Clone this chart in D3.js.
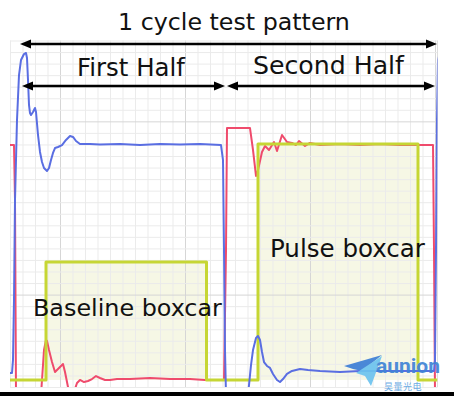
<!DOCTYPE html>
<html><head><meta charset="utf-8">
<script src="https://cdn.jsdelivr.net/npm/d3@7"></script>
<style>html,body{margin:0;padding:0;background:#fff;} svg{display:block}</style>
</head><body><svg id="c" width="454" height="396"></svg>
<script>
// ---- data (time and signal in grid divisions) ----
const blueT = [0,0.16,0.24,0.32,0.4, 0.56,0.72,0.88,1.12,1.28, 1.36,1.44,1.52,1.6,1.68, 1.84,2.0,2.08,2.24,2.4,
  2.56,2.72,2.96,3.12,3.28, 3.44,3.6,3.84,4.16,4.48, 4.8,5.04,5.28,5.6,6.4, 7.2,8.8,10.4,12,13.6,
  15.2,16.88,17.04,17.12,17.2, 17.28,19.04,19.12,19.28,19.44, 19.68,19.84,20,20.16,20.32, 20.56,20.8,21.04,21.36,21.6,
  21.84,22.16,22.56,23.2,23.84, 24.8,26.4,28,29.6,31.2, 32.8,33.92,34,34.08,34.16, 34.24,34.4];
const blueV = [1.21,1.21,2.34,7.53,16.19, 23.12,27.01,28.31,28.83,28.92, 28.48,26.58,24.42,23.72,23.55, 23.81,24.16,23.81,21.82,20.35,
  19.48,18.96,18.70,18.96,19.65, 20.26,20.69,20.78,20.95,21.39, 21.73,21.65,21.30,21.04,21.04, 21.00,21.04,20.95,21.04,21.00,
  21.04,20.95,19.65,11.86,3.20, -0.69,-0.69,0.17,1.90,3.20, 4.24,4.42,4.07,3.03,2.16, 1.82,1.65,1.13,0.61,0.43,
  0.69,1.13,1.39,1.56,1.47, 1.39,1.30,1.39,1.39,1.39, 1.39,1.39,2.34,11.86,23.12, 28.31,28.92];
const redT = [0,0.32,0.4,0.48,2.48, 2.56,2.72,2.88,2.96,3.12, 3.36,3.6,3.84,4.08,4.24, 4.4,4.56,4.72,5.12,5.36,
  5.6,5.92,6.24,6.56,6.88, 7.2,7.6,8.0,8.56,9.6, 11.2,12.8,14.4,15.6,17.12, 17.28,17.36,19.2,19.44,19.68,
  19.84,20.16,20.4,20.72,21.12, 21.36,21.76,22.16,22.56,22.88, 23.12,23.6,24.0,24.8,26.4, 28,29.6,31.2,32.8,33.84,
  33.92,34.0,34.4];
const redV = [20.95,20.95,16.19,-0.69,-0.69, 0.61,3.20,4.07,3.98,3.20, 2.16,1.30,1.56,1.82,1.99, 1.30,0.43,-0.43,-0.43,0.35,
  0.61,0.43,0.52,0.69,0.95, 0.78,0.61,0.61,0.69,0.69, 0.78,0.69,0.69,0.61,0.61, 11.86,22.42,22.42,20.52,18.27,
  18.79,20.35,20.87,20.52,21.21, 20.43,21.82,21.21,21.13,20.95, 21.30,20.87,21.13,20.95,21.04, 20.95,21.04,20.95,20.95,20.95,
  11.86,-0.69,-0.69];
const boxNames = ["Baseline boxcar", "Pulse boxcar"];
const boxStart = [2.88, 19.84];
const boxEnd = [15.72, 32.64];
const boxLevel = [10.82, 21.04];
const boxBaseline = 0.61;
const spanLabels = ["1 cycle test pattern", "First Half", "Second Half"];
const spanStart = [0.8, 0.96, 17.36];
const spanEnd = [34.16, 17.2, 34.0];
const spanLevel = [29.7, 26.06, 26.06];
const xTicks = d3.range(0, 35);
const yTicks = d3.range(0, 31);

// ---- layout ----
const svg = d3.select("#c");
const X0 = 10, X1 = 437.5, Y0 = 387, Y1 = 40.5;
const x = d3.scaleLinear().domain([0, 34.2]).range([X0, X1]);
const y = d3.scaleLinear().domain([0, 30]).range([Y0, Y1]);

svg.append("defs").append("clipPath").attr("id", "plot")
  .append("rect").attr("x", X0).attr("y", Y1).attr("width", X1 - X0).attr("height", Y0 - Y1);

// boxcar fills (under grid, grid shows through)
const fills = svg.append("g").attr("clip-path", "url(#plot)");
fills.selectAll("rect.box").data(boxNames).join("rect").attr("class", "box")
  .attr("x", (d, i) => x(boxStart[i])).attr("width", (d, i) => x(boxEnd[i]) - x(boxStart[i]))
  .attr("y", (d, i) => y(boxLevel[i])).attr("height", (d, i) => y(boxBaseline) - y(boxLevel[i]))
  .attr("fill", "#f6f7e5");

// grid via axes
const gx = svg.append("g").attr("transform", `translate(0,${Y0})`)
  .call(d3.axisBottom(x).tickValues(xTicks).tickSize(-(Y0 - Y1)).tickFormat(""));
const gy = svg.append("g").attr("transform", `translate(${X0},0)`)
  .call(d3.axisLeft(y).tickValues(yTicks).tickSize(-(X1 - X0)).tickFormat(""));
[gx, gy].forEach(g => g.select(".domain").remove());
gx.selectAll(".tick line").attr("stroke", d => d % 10 === 4 ? "#d6d6d6" : "#ebebeb").attr("stroke-width", 1);
gy.selectAll(".tick line").attr("stroke", d => (d - 8) % 15 === 0 ? "#d6d6d6" : "#ebebeb").attr("stroke-width", 1);
svg.append("line").attr("x1", X1).attr("x2", X1).attr("y1", Y1).attr("y2", Y0).attr("stroke", "#dedede");

const plot = svg.append("g").attr("clip-path", "url(#plot)");
const line = d3.line().x(d => x(d[0])).y(d => y(d[1]));

// red trace
plot.append("path").datum(redT.map((t, i) => [t, redV[i]]))
  .attr("d", line).attr("fill", "none").attr("stroke", "#ef4b6c").attr("stroke-width", 2).attr("stroke-linejoin", "round");

// green boxcar gate
const gate = [[0, boxBaseline]];
boxStart.forEach((s, i) => {
  gate.push([s, boxBaseline], [s, boxLevel[i]], [boxEnd[i], boxLevel[i]], [boxEnd[i], boxBaseline]);
});
gate.push([34.2, boxBaseline]);
plot.append("path").datum(gate).attr("d", line).attr("fill", "none")
  .attr("stroke", "#c6d634").attr("stroke-width", 3).attr("stroke-linejoin", "round");

// blue trace
plot.append("path").datum(blueT.map((t, i) => [t, blueV[i]]))
  .attr("d", line).attr("fill", "none").attr("stroke", "#5a6ee2").attr("stroke-width", 2).attr("stroke-linejoin", "round");

// span arrows
const ah = 11, aw = 4.5;
spanLabels.forEach((lab, i) => {
  const xa = x(spanStart[i]), xb = x(spanEnd[i]), yy = y(spanLevel[i]);
  svg.append("line").attr("x1", xa + 6).attr("x2", xb - 6).attr("y1", yy).attr("y2", yy)
    .attr("stroke", "#000").attr("stroke-width", 2.5);
  svg.append("path").attr("d", `M${xa},${yy}L${xa + ah},${yy - aw}L${xa + ah},${yy + aw}Z`).attr("fill", "#000");
  svg.append("path").attr("d", `M${xb},${yy}L${xb - ah},${yy - aw}L${xb - ah},${yy + aw}Z`).attr("fill", "#000");
});

function fitText(sel, w) {
  const cur = sel.node().getComputedTextLength();
  const fs = parseFloat(sel.attr("font-size"));
  sel.attr("font-size", fs * w / cur);
}
const FONT = "'DejaVu Sans', 'Open Sans', sans-serif";
const spanLabelPos = [[118, 30, 232], [77, 76, 108], [253, 74, 151]];
spanLabels.forEach((lab, i) => {
  const t = svg.append("text").attr("x", spanLabelPos[i][0]).attr("y", spanLabelPos[i][1])
    .attr("font-family", FONT).attr("font-size", 24).attr("fill", "#111").text(lab);
  fitText(t, spanLabelPos[i][2]);
});
const boxLabelPos = [[33, 316, 189], [270, 257, 155]];
boxNames.forEach((lab, i) => {
  const t = svg.append("text").attr("x", boxLabelPos[i][0]).attr("y", boxLabelPos[i][1])
    .attr("font-family", FONT).attr("font-size", 24).attr("fill", "#111").text(lab);
  fitText(t, boxLabelPos[i][2]);
});

// logo watermark
const logo = svg.append("g").attr("opacity", 0.92);
logo.append("path").attr("d", "M344,366L382,355L362,371L353,369Z").attr("fill", "#3d7fd6");
logo.append("path").attr("d", "M356,373L382,356L371,386L365,376Z").attr("fill", "#6cc3ef");
const lt = logo.append("text").attr("x", 376).attr("y", 373).attr("font-family", "Roboto, 'Liberation Sans', sans-serif")
  .attr("font-weight", "bold").attr("font-size", 22).attr("fill", "#3f84d6").text("aunion");
fitText(lt, 64);
logo.append("text").attr("x", 384).attr("y", 389.5).attr("font-family", "'Noto Sans CJK SC', sans-serif")
  .attr("font-size", 9).attr("letter-spacing", 0.5).attr("fill", "#62a6e4").text("昊量光电");

// bottom bar
svg.append("rect").attr("x", 0).attr("y", 392).attr("width", 454).attr("height", 4).attr("fill", "#000");
</script></body></html>
